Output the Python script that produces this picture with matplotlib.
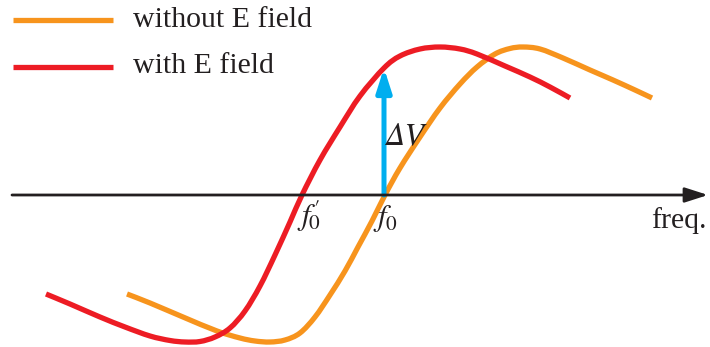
import matplotlib
matplotlib.use("Agg")
import matplotlib.pyplot as plt
from matplotlib.patches import FancyArrowPatch, PathPatch
from matplotlib.path import Path

plt.rcParams["mathtext.fontset"] = "stix"
plt.rcParams["font.family"] = ["Liberation Serif", "DejaVu Serif"]

# Detector signal vs. frequency (arbitrary units, axis at signal = 0)
freq_without = [127, 150, 183, 217, 240, 255, 270, 285, 300, 315, 330, 345, 358,
                372, 385, 400, 420, 440, 460, 477, 495, 510, 523, 540, 563, 590,
                613, 635, 652]
sig_without = [-99, -108, -122, -136, -143, -146, -147, -145, -138, -122, -100, -76,
               -52, -26, 0, 27, 58, 87, 111, 128, 141, 146.5, 148, 146, 137, 125,
               115, 105, 97]

freq_with = [46, 70, 100, 125, 150, 170, 185, 200, 215, 230, 245, 260, 275, 290,
             302, 320, 340, 360, 384, 400, 420, 440, 460, 477, 505, 530, 550, 570]
sig_with = [-99, -109, -122, -132, -141, -145.5, -147, -146.5, -142, -133, -116, -91,
            -60, -27, 0, 35, 68, 99, 127, 139, 146, 148, 146, 141, 129, 118, 108, 97]

f0 = 384
f0_prime = 302
delta_v = 127

ORANGE = "#f7941d"
RED = "#ed1c24"
CYAN = "#00aeef"
INK = "#231f20"


def smooth_path(xs, ys):
    """Cubic Bezier path through every point (Catmull-Rom tangents)."""
    pts = list(zip(xs, ys))
    verts = [pts[0]]
    codes = [Path.MOVETO]
    n = len(pts)
    for i in range(n - 1):
        p0 = pts[i - 1] if i > 0 else pts[i]
        p1 = pts[i]
        p2 = pts[i + 1]
        p3 = pts[i + 2] if i + 2 < n else pts[i + 1]
        c1 = (p1[0] + (p2[0] - p0[0]) / 6, p1[1] + (p2[1] - p0[1]) / 6)
        c2 = (p2[0] - (p3[0] - p1[0]) / 6, p2[1] - (p3[1] - p1[1]) / 6)
        verts += [c1, c2, p2]
        codes += [Path.CURVE4] * 3
    return Path(verts, codes)


fig = plt.figure(figsize=(7.10, 3.47), dpi=100)
ax = fig.add_axes([0, 0, 1, 1])
ax.set_xlim(0, 710)
ax.set_ylim(-152, 195)
ax.axis("off")

# frequency axis with arrow head
ax.annotate("", xy=(708, 0), xytext=(12, 0),
            arrowprops=dict(arrowstyle="-|>,head_length=1.4,head_width=0.45",
                            color=INK, lw=2.0, shrinkA=0, shrinkB=0))

for xs, ys, col in [(freq_without, sig_without, ORANGE), (freq_with, sig_with, RED)]:
    ax.add_patch(PathPatch(smooth_path(xs, ys), facecolor="none", edgecolor=col,
                           lw=3.8, capstyle="butt", joinstyle="round"))

# signal change at f0
arr = FancyArrowPatch((f0, 0), (f0, delta_v),
                      arrowstyle="-|>,head_length=14,head_width=4.5",
                      color=CYAN, lw=3.6, shrinkA=0, shrinkB=0, mutation_scale=1)
ax.add_patch(arr)
ax.text(f0 + 1, 51, "\u0394V", fontsize=23, color=INK, family="STIXGeneral",
        style="italic", ha="left", va="baseline")

ax.text(f0 + 2, -31, r"$f_0$", fontsize=22, color=INK, ha="center", va="baseline")
ax.text(f0_prime - 5, -31, r"$f'_{\!\!\!\!\!0}$", fontsize=22, color=INK,
        ha="left", va="baseline")
ax.text(651, -33, "freq.", fontsize=21.5, color=INK, ha="left", va="baseline")

# legend
ax.plot([13, 113], [175, 175], color=ORANGE, lw=3.8, solid_capstyle="butt")
ax.plot([13, 113], [128, 128], color=RED, lw=3.8, solid_capstyle="butt")
ax.text(133, 168, "without E field", fontsize=21.5, color=INK, va="baseline")
ax.text(133, 122, "with E field", fontsize=21.5, color=INK, va="baseline")

fig.savefig("out.png", dpi=100)
